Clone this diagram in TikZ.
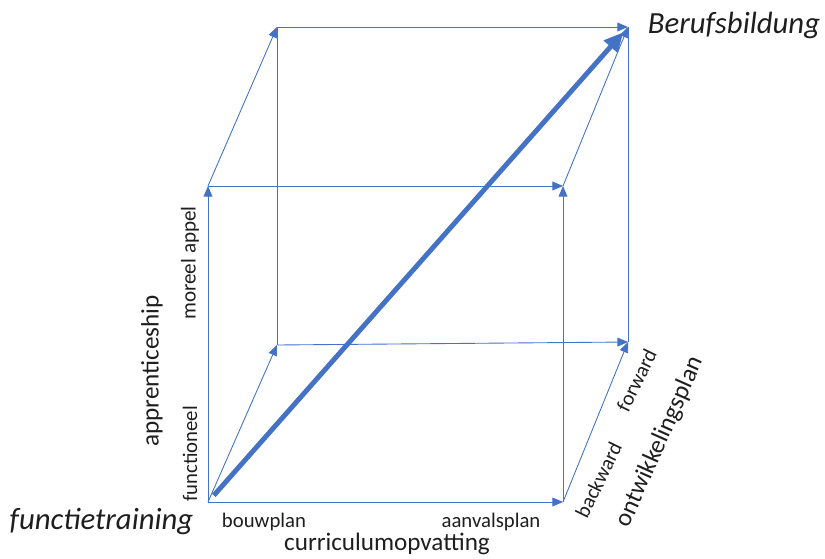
\documentclass[tikz,border=0pt]{standalone}
\usepackage{fontspec}
\setmainfont{Carlito}
\usetikzlibrary{arrows.meta}
\definecolor{officeblue}{RGB}{68,114,196}
\definecolor{txt}{RGB}{30,30,30}
\newcommand{\fs}[1]{\fontsize{#1}{#1}\selectfont}

\begin{document}
\begin{tikzpicture}[
  cube/.style={draw=officeblue, line width=0.5pt},
  cubearrow/.style={cube, -{Triangle[length=6pt,width=5pt]}},
  lbl/.style={text=txt, inner sep=0pt}]
\useasboundingbox (0,0) rectangle (16.5,11.16);

\coordinate (o) at (4.16,1.12);
\coordinate (x) at (11.26,1.12);
\coordinate (y) at (4.16,7.44);
\coordinate (z) at (5.54,4.26);
\coordinate (xy) at (11.26,7.44);
\coordinate (xz) at (12.56,4.32);
\coordinate (yz) at (5.54,10.62);
\coordinate (xyz) at (12.56,10.62);

\draw [cubearrow] (o) -- (x);
\draw [cubearrow] (o) -- (y);
\draw [cubearrow] (o) -- (z);
\draw [cubearrow] (x) -- (xy);
\draw [cubearrow] (x) -- (xz);
\draw [cubearrow] (y) -- (xy);
\draw [cubearrow] (y) -- (yz);
\draw [cubearrow] (z) -- (xz);
\draw [cubearrow] (yz) -- (xyz);
\draw [cubearrow] (xy) -- (xyz);
\draw [cube] (z) -- (yz);
\draw [cube] (xz) -- (xyz);

\draw [draw=officeblue, line width=2.8pt, -{Triangle[length=11pt,width=10pt]}, shorten <=5pt, shorten >=4pt] (o) -- (xyz);

\node (ft) [lbl, font=\fs{17.5}\itshape] at (2.03,0.72) {functietraining};
\node (bb) [lbl, font=\fs{17.5}\itshape] at (14.68,10.66) {Berufsbildung};
\node (bp) [lbl, font=\fs{11.8}] at (5.28,0.72) {bouwplan};
\node (ap) [lbl, font=\fs{11.8}] at (9.82,0.72) {aanvalsplan};
\node (co) [lbl, font=\fs{14.3}] at (7.74,0.28) {curriculumopvatting};
\node (fn) [lbl, font=\fs{11.8}, rotate=90] at (3.80,2.08) {functioneel};
\node (ma) [lbl, font=\fs{12}, rotate=90] at (3.80,5.90) {moreel appel};
\node (as) [lbl, font=\fs{14.3}, rotate=90] at (3.04,3.74) {apprenticeship};
\node (bw) [lbl, font=\fs{11.8}, rotate=64] at (11.97,1.56) {backward};
\node (fw) [lbl, font=\fs{11.8}, rotate=64] at (12.73,3.56) {forward};
\node (op) [lbl, font=\fs{14.3}, rotate=66] at (13.20,2.32) {ontwikkelingsplan};
\end{tikzpicture}
\end{document}
